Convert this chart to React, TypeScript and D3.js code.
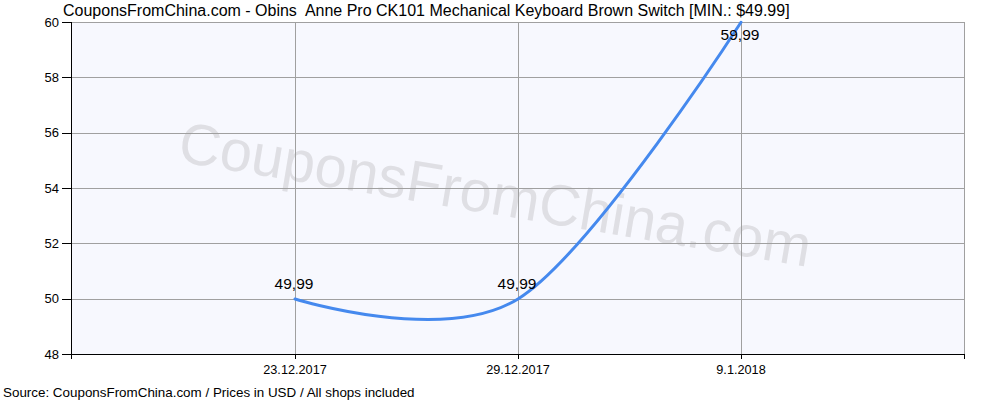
import React from "react";
import * as d3 from "d3";

const categories = ["23.12.2017", "29.12.2017", "9.1.2018"];
const prices = [49.99, 49.99, 59.99];
const priceLabels = ["49,99", "49,99", "59,99"];
const yTicks = [48, 50, 52, 54, 56, 58, 60];
const title = "CouponsFromChina.com - Obins  Anne Pro CK101 Mechanical Keyboard Brown Switch [MIN.: $49.99]";
const source = "Source: CouponsFromChina.com / Prices in USD / All shops included";
const watermark = "CouponsFromChina.com";

const W = 1000, H = 400;
const L = 72, R = 964, T = 22, B = 354;
const FONT = "'Liberation Sans', Arial, sans-serif";

export default function App() {
  const x = d3.scalePoint<string>().domain(categories).range([L, R]).padding(1);
  const y = d3.scaleLinear().domain([48, 60]).range([B, T]);
  const line = d3
    .line<number>()
    .x((_, i) => x(categories[i]) as number)
    .y((d) => y(d))
    .curve(d3.curveCardinal.tension(0));
  const path = line(prices) || "";

  return (
    <div style={{ position: "absolute", left: 0, top: 0 }}>
      <svg width={W} height={H} style={{ display: "block", background: "#fff" }} fontFamily={FONT}>
        <rect x={L} y={T} width={R - L} height={B - T} fill="#f7f8fe" />
        <text
          x={0}
          y={0}
          transform="translate(492,214) rotate(9.5)"
          textAnchor="middle"
          fontSize={58}
          fill="#dfdfe4"
          textLength={640}
          lengthAdjust="spacingAndGlyphs"
        >
          {watermark}
        </text>
        {yTicks.map((t) => (
          <line key={"gy" + t} x1={L} x2={R} y1={Math.round(y(t)) + 0.5} y2={Math.round(y(t)) + 0.5} stroke="#a0a0a0" strokeWidth={1} />
        ))}
        {categories.map((c) => (
          <line key={"gx" + c} x1={Math.round(x(c) as number) + 0.5} x2={Math.round(x(c) as number) + 0.5} y1={T} y2={B} stroke="#a0a0a0" strokeWidth={1} />
        ))}
        <line x1={R + 0.5} x2={R + 0.5} y1={T} y2={B} stroke="#a0a0a0" />
        <line x1={L} x2={R} y1={T + 0.5} y2={T + 0.5} stroke="#a0a0a0" />
        <path d={path} fill="none" stroke="#4589ee" strokeWidth={3} strokeLinecap="round" />
        {/* axes */}
        <line x1={L - 0.5} x2={L - 0.5} y1={T} y2={B + 5} stroke="#000" />
        <line x1={L - 1} x2={R + 1} y1={B + 0.5} y2={B + 0.5} stroke="#000" />
        {yTicks.map((t) => (
          <g key={"ty" + t}>
            <line x1={L - 10} x2={L} y1={Math.round(y(t)) + 0.5} y2={Math.round(y(t)) + 0.5} stroke="#000" />
            <text x={L - 13} y={y(t) + 4.5} textAnchor="end" fontSize={13} fill="#000">
              {t}
            </text>
          </g>
        ))}
        {categories.map((c) => (
          <g key={"tx" + c}>
            <line x1={Math.round(x(c) as number) + 0.5} x2={Math.round(x(c) as number) + 0.5} y1={B} y2={B + 5} stroke="#000" />
            <text x={x(c) as number} y={374} textAnchor="middle" fontSize={12.7} fill="#000">
              {c}
            </text>
          </g>
        ))}
        <line x1={R + 0.5} x2={R + 0.5} y1={B} y2={B + 5} stroke="#000" />
        {prices.map((p, i) => {
          const py = y(p);
          const above = py - 10 > T + 12;
          return (
            <text
              key={"lb" + i}
              x={(x(categories[i]) as number) - 1}
              y={above ? py - 10 : py + 18}
              textAnchor="middle"
              fontSize={15.5}
              fill="#000"
            >
              {priceLabels[i]}
            </text>
          );
        })}
        <text x={63} y={16} fontSize={16} fill="#000" style={{ whiteSpace: "pre" }}>
          {title}
        </text>
        <text x={3} y={397} fontSize={13.4} fill="#000">
          {source}
        </text>
      </svg>
    </div>
  );
}
